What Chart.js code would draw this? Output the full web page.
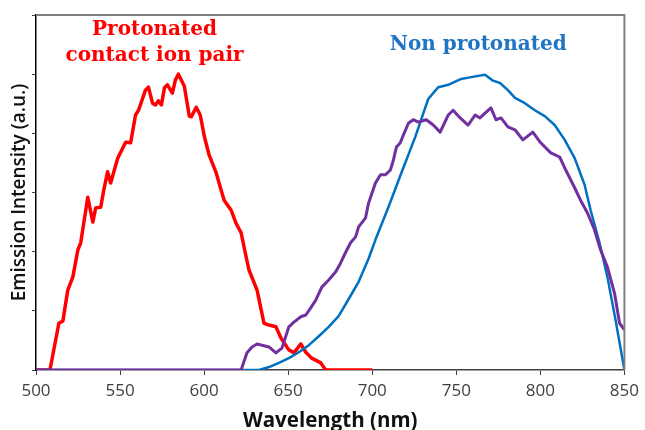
<!DOCTYPE html>
<html>
<head>
<meta charset="utf-8">
<script src="https://cdn.jsdelivr.net/npm/chart.js@4/dist/chart.umd.min.js"></script>
<style>
  body { margin: 0; background: #fff; }
</style>
</head>
<body>
<canvas id="spectra" width="645" height="430"></canvas>
<script>
// wavelength (nm) / emission intensity (a.u.)
var redWl  = [500, 508.3, 513.6, 516, 518.9, 521.9, 524.9, 526.6, 530.8, 533.8, 535.5, 538.5, 540.3, 542.6, 544.4, 548.6, 553.3, 556.3, 559.2, 561, 565.1, 566.9, 569.3, 571.1, 572.8, 574.6, 576.4, 578.2, 581.1, 582.9, 584.7, 588.2, 591.2, 592.4, 595.3, 597.7, 600.1, 603, 607.2, 610.1, 611.9, 616.1, 619, 622, 625, 626.7, 631.5, 635.6, 638.6, 642.7, 645.7, 650.4, 653.4, 657.5, 660.5, 664, 669.4, 672.3, 700];
var redVal = [0, 0, 0.79, 0.83, 1.35, 1.57, 2.03, 2.15, 2.92, 2.50, 2.74, 2.75, 3.04, 3.35, 3.16, 3.58, 3.85, 3.84, 4.31, 4.39, 4.73, 4.78, 4.51, 4.48, 4.55, 4.48, 4.77, 4.82, 4.68, 4.90, 5.00, 4.80, 4.29, 4.28, 4.44, 4.31, 3.95, 3.63, 3.33, 3.04, 2.87, 2.70, 2.48, 2.32, 1.91, 1.69, 1.35, 0.79, 0.76, 0.73, 0.54, 0.34, 0.29, 0.44, 0.30, 0.20, 0.12, 0, 0];

var purpleWl  = [500, 622, 625.5, 628.5, 631.5, 635.6, 638.6, 642.7, 646.3, 650.4, 653.4, 657.5, 660.5, 663.4, 666.4, 670, 674.1, 678.3, 681.2, 684.2, 687.1, 690.1, 691.9, 696, 697.8, 701.9, 704.9, 707.9, 710.8, 712.6, 714.4, 716.7, 718.5, 721.5, 724.4, 727.4, 732.1, 736.3, 740.4, 745.2, 748.1, 752.3, 757, 761.2, 764.1, 767.1, 770.6, 773.6, 776.6, 780.7, 784.9, 789.6, 795.5, 800.2, 806.2, 811.5, 815.1, 820.4, 823.9, 828.1, 832.2, 835.8, 839.9, 844.1, 847.1, 850];
var purpleVal = [0, 0, 0.29, 0.39, 0.44, 0.41, 0.39, 0.29, 0.37, 0.73, 0.81, 0.90, 0.93, 1.05, 1.18, 1.40, 1.52, 1.66, 1.81, 1.99, 2.15, 2.25, 2.42, 2.57, 2.82, 3.16, 3.30, 3.30, 3.38, 3.55, 3.77, 3.84, 3.97, 4.17, 4.23, 4.19, 4.23, 4.14, 4.02, 4.31, 4.39, 4.26, 4.14, 4.31, 4.26, 4.34, 4.43, 4.23, 4.26, 4.11, 4.06, 3.89, 4.02, 3.84, 3.67, 3.60, 3.38, 3.08, 2.87, 2.65, 2.37, 2.03, 1.74, 1.30, 0.79, 0.68];

var blueWl  = [500, 622, 632.7, 638.6, 644.5, 650.4, 656.3, 662.3, 668.2, 674.1, 680, 686, 691.9, 697.8, 701.9, 709.6, 717.3, 725.6, 733.3, 739.3, 745.2, 752.9, 758.8, 767.1, 771.8, 776, 780.7, 784.9, 790.8, 796.7, 802.6, 808.5, 814.5, 820.4, 826.3, 829.9, 835.2, 839.9, 844.7, 850];
var blueVal = [0, 0, 0, 0.05, 0.12, 0.20, 0.30, 0.42, 0.57, 0.73, 0.91, 1.20, 1.49, 1.88, 2.20, 2.75, 3.33, 3.94, 4.58, 4.78, 4.82, 4.92, 4.95, 4.99, 4.89, 4.85, 4.73, 4.60, 4.51, 4.39, 4.29, 4.14, 3.89, 3.58, 3.13, 2.70, 2.15, 1.57, 0.85, 0];

var xTicks = [500, 550, 600, 650, 700, 750, 800, 850];

// labels placed in data units
var labelText  = ['Protonated', 'contact ion pair', 'Non protonated'];
var labelWl    = [570.5, 570.5, 763];
var labelVal   = [5.75, 5.31, 5.49];
var labelColor = ['#ff0000', '#ff0000', '#1f74c4'];

function pts(xs, ys){
  return xs.map(function(x, i){ return {x: x, y: ys[i]}; });
}

var framePlugin = {
  id: 'frame',
  afterDraw: function(chart){
    var a = chart.chartArea, c = chart.ctx;
    c.save();
    c.strokeStyle = '#808080';
    c.lineWidth = 2;
    c.beginPath();
    c.moveTo(a.left, a.top);
    c.lineTo(a.right, a.top);
    c.lineTo(a.right, a.bottom);
    c.stroke();
    c.restore();
  }
};

var labelPlugin = {
  id: 'labels',
  afterDatasetsDraw: function(chart){
    var c = chart.ctx, xs = chart.scales.x, ys = chart.scales.y;
    c.save();
    c.font = 'bold 20px "DejaVu Serif"';
    c.textAlign = 'center';
    c.textBaseline = 'middle';
    for (var i = 0; i < labelText.length; i++) {
      c.fillStyle = labelColor[i];
      c.fillText(labelText[i], xs.getPixelForValue(labelWl[i]), ys.getPixelForValue(labelVal[i]));
    }
    c.restore();
  }
};

var ctx = document.getElementById('spectra').getContext('2d');
new Chart(ctx, {
  type: 'line',
  data: {
    datasets: [
      { data: pts(purpleWl, purpleVal), borderColor: '#7030a0', borderWidth: 3 },
      { data: pts(blueWl, blueVal), borderColor: '#0070c0', borderWidth: 2.5 },
      { data: pts(redWl, redVal), borderColor: '#ff0000', borderWidth: 3.5 }
    ]
  },
  options: {
    responsive: false,
    animation: false,
    elements: { point: { radius: 0 }, line: { tension: 0, borderJoinStyle: 'round' } },
    layout: { padding: { top: 15, right: 18, left: 0, bottom: 0 } },
    plugins: { legend: { display: false }, tooltip: { enabled: false } },
    scales: {
      x: {
        type: 'linear',
        min: 500, max: 850,
        afterBuildTicks: function(s){ s.ticks = xTicks.map(function(v){ return {value: v}; }); },
        afterFit: function(s){ s.height = 60; },
        border: { color: '#404040', width: 1.5 },
        grid: { drawOnChartArea: false, drawTicks: true, tickLength: 5, color: '#404040' },
        ticks: { color: '#404040', font: { family: 'Open Sans', size: 17 }, padding: 6, maxRotation: 0 },
        title: {
          display: true, text: 'Wavelength (nm)', color: '#111',
          font: { family: 'Open Sans', size: 20.5, weight: 'bold', lineHeight: 0.9 },
          padding: { top: 0, bottom: 0 }
        }
      },
      y: {
        min: 0, max: 6,
        ticks: { stepSize: 1, display: false },
        afterFit: function(s){ s.width = 36; },
        border: { color: '#000', width: 1.5 },
        grid: { drawOnChartArea: false, drawTicks: true, tickLength: 4, color: '#404040' },
        title: {
          display: true, text: 'Emission Intensity (a.u.)', color: '#111',
          font: { family: 'Open Sans', size: 19, weight: '600' },
          padding: { top: 8, bottom: 0 }
        }
      }
    }
  },
  plugins: [framePlugin, labelPlugin]
});
</script>
</body>
</html>
